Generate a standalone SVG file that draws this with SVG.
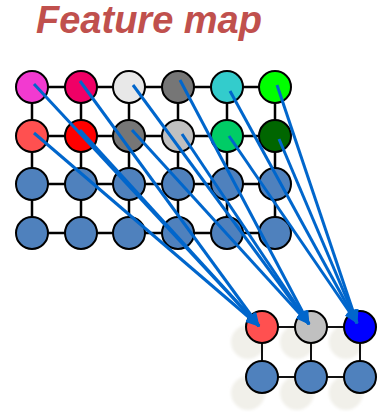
<svg xmlns="http://www.w3.org/2000/svg" width="377" height="412" viewBox="0 0 377 412">
<style>
.title{font-family:"Liberation Sans",Arial,sans-serif;font-weight:bold;font-style:italic;font-size:38px;fill:#c0504d}
.grid{stroke:#000;stroke-width:2.5;fill:none}
.grid2{stroke:#111;stroke-width:2;fill:none}
.n{stroke:#000;stroke-width:2}
.b{fill:#4f81bd}
.shadow{fill:#efede6;opacity:0.85}
.c{stroke:#0066cc;stroke-width:3;fill:none;marker-end:url(#ah)}
</style>
<defs>
<marker id="ah" markerUnits="userSpaceOnUse" markerWidth="15" markerHeight="12" refX="13" refY="6" orient="auto">
<path d="M0,0 L14,6 L0,12 z" fill="#0066cc"/>
</marker>
<filter id="blur" x="-50%" y="-50%" width="200%" height="200%"><feGaussianBlur stdDeviation="1.8"/></filter>
</defs>
<rect width="377" height="412" fill="#fff"/>
<text class="title" x="36" y="33">Feature map</text>

<g id="grid-lines">
<path class="grid" d="M32,87H275M32,136H275M32,184H275M32,233H275M32,87V233M81,87V233M129,87V233M178,87V233M227,87V233M275,87V233"/>
</g>

<g id="input">
<g id="n00"><circle class="n" cx="32" cy="87" r="16" fill="#f23ad0"/></g>
<g id="n01"><circle class="n" cx="81" cy="87" r="16" fill="#f00066"/></g>
<g id="n02"><circle class="n" cx="129" cy="87" r="16" fill="#e8e8e8"/></g>
<g id="n03"><circle class="n" cx="178" cy="87" r="16" fill="#767676"/></g>
<g id="n04"><circle class="n" cx="227" cy="87" r="16" fill="#33cccc"/></g>
<g id="n05"><circle class="n" cx="275" cy="87" r="16" fill="#00ff00"/></g>
<g id="n10"><circle class="n" cx="32" cy="136" r="16" fill="#ff5050"/></g>
<g id="n11"><circle class="n" cx="81" cy="136" r="16" fill="#ff0000"/></g>
<g id="n12"><circle class="n" cx="129" cy="136" r="16" fill="#767676"/></g>
<g id="n13"><circle class="n" cx="178" cy="136" r="16" fill="#c0c0c0"/></g>
<g id="n14"><circle class="n" cx="227" cy="136" r="16" fill="#00cc66"/></g>
<g id="n15"><circle class="n" cx="275" cy="136" r="16" fill="#006600"/></g>
<g id="n20"><circle class="n b" cx="32" cy="184" r="16"/></g>
<g id="n21"><circle class="n b" cx="81" cy="184" r="16"/></g>
<g id="n22"><circle class="n b" cx="129" cy="184" r="16"/></g>
<g id="n23"><circle class="n b" cx="178" cy="184" r="16"/></g>
<g id="n24"><circle class="n b" cx="227" cy="184" r="16"/></g>
<g id="n25"><circle class="n b" cx="275" cy="184" r="16"/></g>
<g id="n30"><circle class="n b" cx="32" cy="233" r="16"/></g>
<g id="n31"><circle class="n b" cx="81" cy="233" r="16"/></g>
<g id="n32"><circle class="n b" cx="129" cy="233" r="16"/></g>
<g id="n33"><circle class="n b" cx="178" cy="233" r="16"/></g>
<g id="n34"><circle class="n b" cx="227" cy="233" r="16"/></g>
<g id="n35"><circle class="n b" cx="275" cy="233" r="16"/></g>
</g>

<g id="shadows" filter="url(#blur)">
<circle class="shadow" cx="248" cy="342" r="17"/>
<circle class="shadow" cx="297" cy="342" r="17"/>
<circle class="shadow" cx="346" cy="342" r="17"/>
<circle class="shadow" cx="248" cy="393" r="17"/>
<circle class="shadow" cx="297" cy="393" r="17"/>
<circle class="shadow" cx="346" cy="393" r="17"/>
</g>

<g id="output-lines">
<path class="grid2" d="M262,327H360M262,377H360M262,327V377M311,327V377M360,327V377"/>
</g>

<g id="output">
<g id="o00"><circle class="n" cx="262" cy="327" r="16" fill="#ff5050"/></g>
<g id="o01"><circle class="n" cx="311" cy="327" r="16" fill="#c0c0c0"/></g>
<g id="o02"><circle class="n" cx="360" cy="327" r="16" fill="#0000ff"/></g>
<g id="o10"><circle class="n b" cx="262" cy="377" r="16"/></g>
<g id="o11"><circle class="n b" cx="311" cy="377" r="16"/></g>
<g id="o12"><circle class="n b" cx="360" cy="377" r="16"/></g>
</g>

<g id="connectors">
<line class="c" x1="34" y1="84" x2="259" y2="326"/>
<line class="c" x1="80" y1="81" x2="259" y2="326"/>
<line class="c" x1="34" y1="133" x2="259" y2="326"/>
<line class="c" x1="80" y1="130" x2="259" y2="326"/>
<line class="c" x1="133" y1="85" x2="309" y2="324"/>
<line class="c" x1="180" y1="80" x2="309" y2="324"/>
<line class="c" x1="132" y1="130" x2="309" y2="324"/>
<line class="c" x1="182" y1="134" x2="309" y2="324"/>
<line class="c" x1="230" y1="91" x2="357" y2="323"/>
<line class="c" x1="277" y1="85" x2="357" y2="323"/>
<line class="c" x1="229" y1="136" x2="357" y2="323"/>
<line class="c" x1="279" y1="139" x2="357" y2="323"/>
</g>
</svg>
